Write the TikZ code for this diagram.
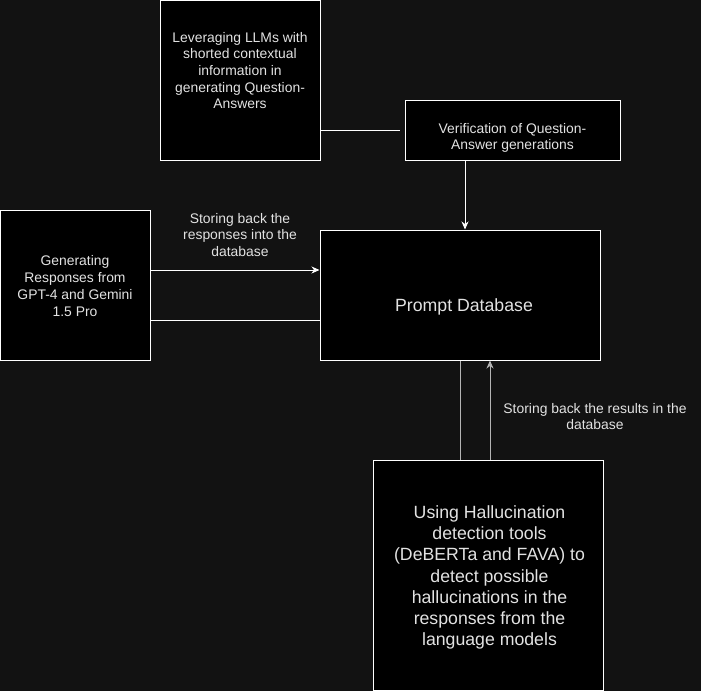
\documentclass[tikz,border=0pt]{standalone}
\usepackage{fontspec}
\setmainfont{Liberation Sans}
\usetikzlibrary{arrows.meta}
\definecolor{bg}{HTML}{121212}
\definecolor{txt}{HTML}{E2E2E2}
\definecolor{dim}{HTML}{B4B4B4}
\tikzset{
 box/.style={draw=white, fill=black, line width=1pt, inner sep=0pt},
 lbl/.style={text=txt, align=center, inner sep=0pt, font=\fontsize{13.9}{16.7}\selectfont},
 biglbl/.style={lbl, font=\fontsize{17.7}{21.3}\selectfont},
 arr/.style={-{Stealth[length=8pt,width=7pt,inset=2.5pt]}, line width=1pt}
}
\begin{document}
\begin{tikzpicture}[x=1pt,y=-1pt]
\fill[bg] (0,0) rectangle (701,691);
\useasboundingbox (0,0) rectangle (701,691);

% boxes
\node[box, minimum width=160, minimum height=160] (llm) at (240,80) {};
\node[box, minimum width=215, minimum height=60] (ver) at (512.5,130) {};
\node[box, minimum width=280, minimum height=130] (db) at (460,295) {};
\node[box, minimum width=150, minimum height=150] (gen) at (75,285) {};
\node[box, minimum width=230, minimum height=230] (hal) at (488,575) {};

% box texts
\node[lbl] (llmtxt) at ([yshift=9.5]llm.center)
 {Leveraging LLMs with\\shorted contextual\\information in\\generating Question-\\Answers};
\node[lbl] (vertxt) at ([yshift=-8]ver.center) {Verification of Question-\\Answer generations};
\node[biglbl] (dbtxt) at ([xshift=4,yshift=-12]db.center) {Prompt Database};
\node[lbl] (gentxt) at ([yshift=-1]gen.center) {Generating\\Responses from\\GPT-4 and Gemini\\1.5 Pro};
\node[biglbl] (haltxt) at ([xshift=1.5,yshift=-2.5]hal.center)
 {Using Hallucination\\detection tools\\(DeBERTa and FAVA) to\\detect possible\\hallucinations in the\\responses from the\\language models};

% connectors
\draw[white, line width=1pt, shorten >=5pt] (llm.east |- ver.west) -- (ver.west);
\draw[arr, white] ([xshift=-47.5]ver.south) -- ([xshift=-47.5]ver.south |- db.north);
\draw[arr, white] ([yshift=15]gen.east) -- ([yshift=15]gen.east -| db.west);
\draw[white, line width=1pt] ([yshift=-35]gen.east) -- ([yshift=-35]gen.east -| db.west);
\draw[dim, line width=1pt] ([xshift=-28]hal.north) -- ([xshift=-28]hal.north |- db.south);
\draw[arr, dim] ([xshift=2]hal.north) -- ([xshift=2]hal.north |- db.south);

% labels
\node[lbl] (lblgen) at (240,235) {Storing back the\\responses into the\\database};
\node[lbl] (lblhal) at (595,416.5) {Storing back the results in the\\database};

\end{tikzpicture}
\end{document}
